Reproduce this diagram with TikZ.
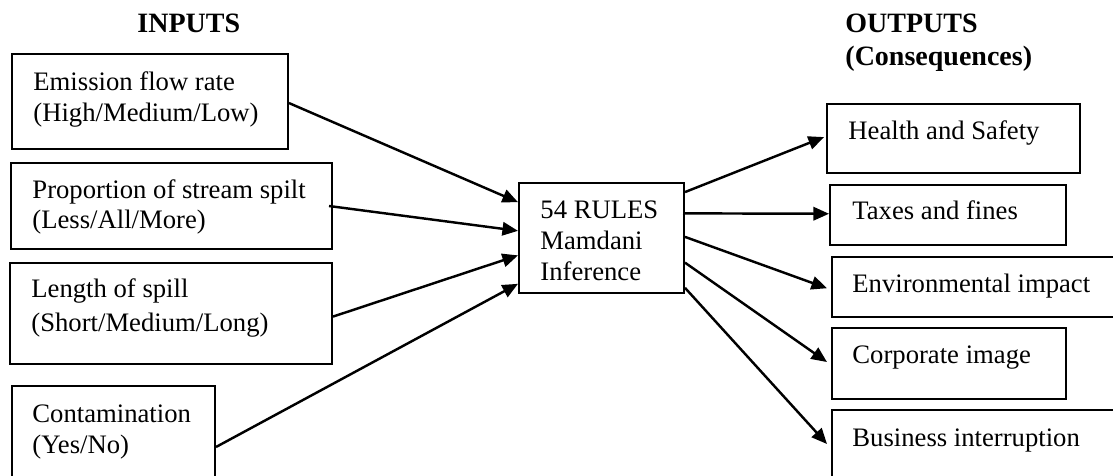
\documentclass[tikz,border=0pt]{standalone}
\usepackage{fontspec}
\setmainfont{Liberation Serif}
\usetikzlibrary{arrows.meta,calc,fit}
\newcommand\mylines[1]{\begin{tabular}[t]{@{}l@{}}#1\end{tabular}}
\begin{document}
\begin{tikzpicture}[x=0.45pt,y=-0.45pt,
  box/.style={draw,line width=0.9pt,inner sep=0pt},
  txt/.style={anchor=base west,inner sep=0pt,font=\fontsize{12}{14}\selectfont},
  head/.style={anchor=base west,inner sep=0pt,font=\fontsize{12.6}{15}\selectfont\bfseries},
  conn/.style={line width=1.1pt,-{Triangle[length=7pt,width=6pt]}}]
\useasboundingbox (0,0) rectangle (1113,476);
\fill[white] (0,0) rectangle (1113,476);
\clip (0,0) rectangle (1113,476);

% headers
\node[head] (hin) at (137,32) {INPUTS};
\node[head] (hout) at (845,32) {\mylines{OUTPUTS\\(Consequences)}};

% input boxes
\node[box, fit={(12,54) (288,149)}] (in1) {};
\node[box, fit={(11,163) (332,249)}] (in2) {};
\node[box, fit={(10,263) (332,364)}] (in3) {};
\node[box, fit={(12,386) (215,500)}] (in4) {};
\node[txt] (in1t) at (33,90) {\mylines{Emission flow rate\\(High/Medium/Low)}};
\node[txt] (in2t) at (32,198) {\mylines{Proportion of stream spilt\\[-0.5pt](Less/All/More)}};
\node[txt] (in3t) at (31,297) {\mylines{Length of spill\\[1.5pt](Short/Medium/Long)}};
\node[txt] (in4t) at (32,422) {\mylines{Contamination\\(Yes/No)}};

% centre box
\node[box, fit={(519,183) (684,293)}] (rules) {};
\node[txt] (rulest) at (540,218) {\mylines{54 RULES\\Mamdani\\Inference}};

% output boxes
\node[box, fit={(827,104) (1080,173)}] (out1) {};
\node[box, fit={(830,185) (1066,245)}] (out2) {};
\node[box, fit={(832,257) (1130,317)}] (out3) {};
\node[box, fit={(832,328) (1066,399)}] (out4) {};
\node[box, fit={(832,410) (1130,500)}] (out5) {};
\node[txt] (out1t) at (848,139) {Health and Safety};
\node[txt] (out2t) at (852,219) {Taxes and fines};
\node[txt] (out3t) at (852,292) {Environmental impact};
\node[txt] (out4t) at (852,363) {Corporate image};
\node[txt] (out5t) at (852,446) {Business interruption};

% input connectors
\draw[conn] ($(in1.north east)!0.516!(in1.south east)$) -- ($(rules.north west)!0.18!(rules.south west)$);
\draw[conn] ($(in2.north east)!0.5!(in2.south east)+(-4,0)$) -- ($(rules.north west)!0.436!(rules.south west)$);
\draw[conn] ($(in3.north east)!0.53!(in3.south east)$) -- ($(rules.north west)!0.655!(rules.south west)$);
\draw[conn] ($(in4.north east)+(0,62)$) -- ($(rules.north west)!0.909!(rules.south west)$);

% output connectors
\draw[conn] ($(rules.north east)!0.09!(rules.south east)$) -- ($(out1.north west)!0.48!(out1.south west)+(-2,0)$);
\draw[conn] ($(rules.north east)!0.28!(rules.south east)+(-2,0)$) -- ($(out2.north west)!0.48!(out2.south west)$);
\draw[conn] ($(rules.north east)!0.49!(rules.south east)$) -- ($(out3.north west)!0.52!(out3.south west)+(-4,0)$);
\draw[conn] ($(rules.north east)!0.72!(rules.south east)$) -- ($(out4.north west)!0.48!(out4.south west)+(-4,0)$);
\draw[conn] ($(rules.north east)!0.945!(rules.south east)$) -- ($(out5.north west)+(-4,35)$);
\end{tikzpicture}
\end{document}
